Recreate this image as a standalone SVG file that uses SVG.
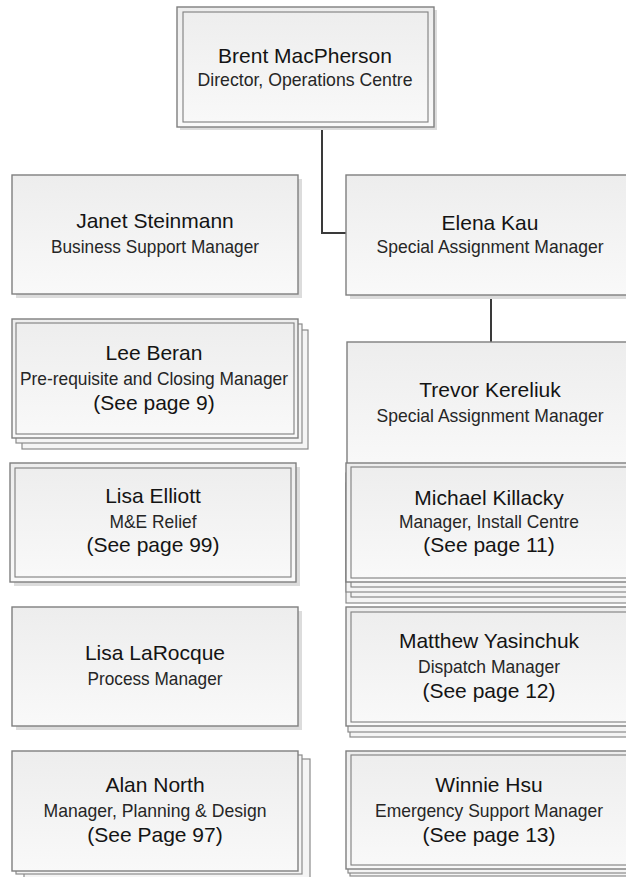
<svg xmlns="http://www.w3.org/2000/svg" width="626" height="877" viewBox="0 0 626 877">
  <defs>
    <linearGradient id="boxFill" x1="0" y1="0" x2="0" y2="1">
      <stop offset="0" stop-color="#ededed"/>
      <stop offset="1" stop-color="#f9f9f9"/>
    </linearGradient>
    <style>
      .box { fill: url(#boxFill); stroke: #7f7f7f; stroke-width: 1.4; }
      .back { fill: #f4f4f4; stroke: #8a8a8a; stroke-width: 1.2; }
      .inner { fill: none; stroke: #7f7f7f; stroke-width: 1.1; }
      .shadow { fill: #dcdcdc; }
      .name { font-family: "Liberation Sans", Arial, sans-serif; font-size: 21px; fill: #141414; text-anchor: middle; }
      .sub { font-family: "Liberation Sans", Arial, sans-serif; font-size: 19px; fill: #262626; text-anchor: middle; }
      .link { fill: none; stroke: #3a3a3a; stroke-width: 2; }
    </style>
  </defs>

  <rect width="626" height="877" fill="#ffffff"/>

  <!-- reporting lines -->
  <g id="connectors">
    <path class="link" d="M322,127 V233 H346"/>
    <path class="link" d="M491,295 V342"/>
  </g>

  <!-- top of the chart -->
  <g id="brent-macpherson">
    <rect class="shadow" x="180" y="10" width="257" height="120"/>
    <rect class="box" x="177" y="7" width="257" height="120"/>
    <rect class="inner" x="183" y="12" width="245" height="110"/>
    <text class="name" x="305" y="63">Brent MacPherson</text>
    <text class="sub" x="305" y="86" textLength="215" lengthAdjust="spacingAndGlyphs">Director, Operations Centre</text>
  </g>

  <!-- left column -->
  <g id="janet-steinmann">
    <rect class="shadow" x="16" y="179" width="286" height="119"/>
    <rect class="box" x="12" y="175" width="286" height="119"/>
    <text class="name" x="155" y="228">Janet Steinmann</text>
    <text class="sub" x="155" y="253" textLength="208" lengthAdjust="spacingAndGlyphs">Business Support Manager</text>
  </g>

  <g id="lee-beran">
    <rect class="back" x="22" y="330" width="286" height="119"/>
    <rect class="back" x="16" y="324" width="286" height="119"/>
    <rect class="box" x="12" y="319" width="286" height="119"/>
    <rect class="inner" x="16" y="323" width="278" height="111"/>
    <text class="name" x="154" y="360">Lee Beran</text>
    <text class="sub" x="154" y="385" textLength="268" lengthAdjust="spacingAndGlyphs">Pre-requisite and Closing Manager</text>
    <text class="name" x="154" y="410">(See page 9)</text>
  </g>

  <g id="lisa-elliott">
    <rect class="shadow" x="14" y="467" width="286" height="119"/>
    <rect class="box" x="10" y="463" width="286" height="119"/>
    <rect class="inner" x="15" y="468" width="276" height="109"/>
    <text class="name" x="153" y="503">Lisa Elliott</text>
    <text class="sub" x="153" y="528" textLength="87" lengthAdjust="spacingAndGlyphs">M&amp;E Relief</text>
    <text class="name" x="153" y="552">(See page 99)</text>
  </g>

  <g id="lisa-larocque">
    <rect class="shadow" x="16" y="611" width="286" height="119"/>
    <rect class="box" x="12" y="607" width="286" height="119"/>
    <text class="name" x="155" y="660">Lisa LaRocque</text>
    <text class="sub" x="155" y="685" textLength="135" lengthAdjust="spacingAndGlyphs">Process Manager</text>
  </g>

  <g id="alan-north">
    <rect class="back" x="24" y="759" width="286" height="125"/>
    <rect class="back" x="16" y="755" width="286" height="119"/>
    <rect class="box" x="12" y="751" width="286" height="120"/>
    <text class="name" x="155" y="792">Alan North</text>
    <text class="sub" x="155" y="817" textLength="223" lengthAdjust="spacingAndGlyphs">Manager, Planning &amp; Design</text>
    <text class="name" x="155" y="842">(See Page 97)</text>
  </g>

  <!-- right column -->
  <g id="elena-kau">
    <rect class="shadow" x="350" y="179" width="290" height="120"/>
    <rect class="box" x="346" y="175" width="290" height="120"/>
    <text class="name" x="490" y="230">Elena Kau</text>
    <text class="sub" x="490" y="253" textLength="227" lengthAdjust="spacingAndGlyphs">Special Assignment Manager</text>
  </g>

  <g id="trevor-kereliuk">
    <rect class="box" x="347" y="342" width="290" height="128"/>
    <text class="name" x="490" y="397">Trevor Kereliuk</text>
    <text class="sub" x="490" y="422" textLength="227" lengthAdjust="spacingAndGlyphs">Special Assignment Manager</text>
  </g>

  <g id="michael-killacky">
    <rect class="back" x="346" y="483" width="290" height="120"/>
    <rect class="inner" x="351" y="488" width="280" height="109"/>
    <rect class="back" x="346" y="473" width="290" height="119"/>
    <rect class="inner" x="351" y="478" width="280" height="109"/>
    <rect class="box" x="346" y="463" width="290" height="119"/>
    <rect class="inner" x="351" y="467" width="280" height="111"/>
    <text class="name" x="489" y="505">Michael Killacky</text>
    <text class="sub" x="489" y="528" textLength="180" lengthAdjust="spacingAndGlyphs">Manager, Install Centre</text>
    <text class="name" x="489" y="552">(See page 11)</text>
  </g>

  <g id="matthew-yasinchuk">
    <rect class="back" x="350" y="618" width="290" height="119"/>
    <rect class="back" x="348" y="613" width="290" height="119"/>
    <rect class="box" x="346" y="607" width="290" height="119"/>
    <rect class="inner" x="351" y="612" width="280" height="110"/>
    <text class="name" x="489" y="648">Matthew Yasinchuk</text>
    <text class="sub" x="489" y="673" textLength="142" lengthAdjust="spacingAndGlyphs">Dispatch Manager</text>
    <text class="name" x="489" y="698">(See page 12)</text>
  </g>

  <g id="winnie-hsu">
    <rect class="back" x="350" y="757" width="290" height="119"/>
    <rect class="back" x="348" y="754" width="290" height="119"/>
    <rect class="box" x="346" y="751" width="290" height="118"/>
    <rect class="inner" x="351" y="755" width="280" height="110"/>
    <text class="name" x="489" y="792">Winnie Hsu</text>
    <text class="sub" x="489" y="817" textLength="228" lengthAdjust="spacingAndGlyphs">Emergency Support Manager</text>
    <text class="name" x="489" y="842">(See page 13)</text>
  </g>
</svg>
